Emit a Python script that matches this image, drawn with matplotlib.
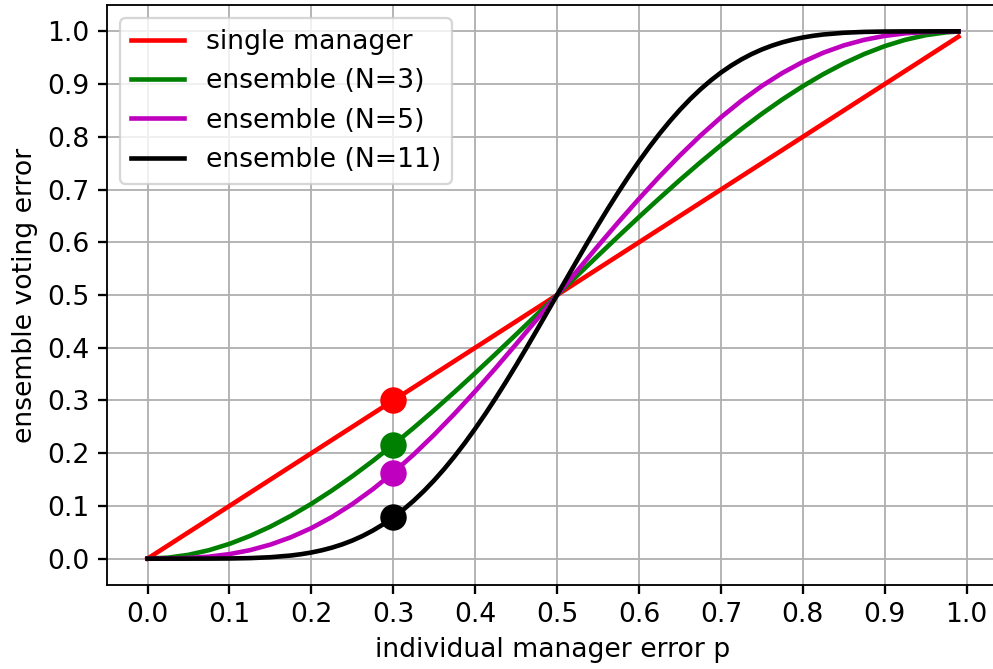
import matplotlib
matplotlib.use("Agg")
import matplotlib.pyplot as plt

p = [0.0, 0.025, 0.05, 0.075, 0.1, 0.125, 0.15, 0.175, 0.2, 0.225, 0.25,
     0.275, 0.3, 0.325, 0.35, 0.375, 0.4, 0.425, 0.45, 0.475, 0.5,
     0.525, 0.55, 0.575, 0.6, 0.625, 0.65, 0.675, 0.7, 0.725, 0.75,
     0.775, 0.8, 0.825, 0.85, 0.875, 0.9, 0.925, 0.95, 0.975, 0.99]
single = [0.0, 0.025, 0.05, 0.075, 0.1, 0.125, 0.15, 0.175, 0.2, 0.225, 0.25,
          0.275, 0.3, 0.325, 0.35, 0.375, 0.4, 0.425, 0.45, 0.475, 0.5,
          0.525, 0.55, 0.575, 0.6, 0.625, 0.65, 0.675, 0.7, 0.725, 0.75,
          0.775, 0.8, 0.825, 0.85, 0.875, 0.9, 0.925, 0.95, 0.975, 0.99]
ens3 = [0.0, 0.00184, 0.00725, 0.01603, 0.028, 0.04297, 0.06075, 0.08116, 0.104, 0.12909, 0.15625,
        0.18528, 0.216, 0.24822, 0.28175, 0.31641, 0.352, 0.38834, 0.42525, 0.46253, 0.5,
        0.53747, 0.57475, 0.61166, 0.648, 0.68359, 0.71825, 0.75178, 0.784, 0.81472, 0.84375,
        0.87091, 0.896, 0.91884, 0.93925, 0.95703, 0.972, 0.98397, 0.99275, 0.99816, 0.9997]
ens5 = [0.0, 0.00015, 0.00116, 0.00376, 0.00856, 0.01605, 0.02661, 0.04051, 0.05792, 0.07892, 0.10352,
        0.13162, 0.16308, 0.19769, 0.23517, 0.27521, 0.31744, 0.36147, 0.40687, 0.4532, 0.5,
        0.5468, 0.59313, 0.63853, 0.68256, 0.72479, 0.76483, 0.80231, 0.83692, 0.86838, 0.89648,
        0.92108, 0.94208, 0.95949, 0.97339, 0.98395, 0.99144, 0.99624, 0.99884, 0.99985, 0.99999]

p11 = [0.0, 0.025, 0.05, 0.075, 0.1, 0.125, 0.15, 0.175, 0.1875, 0.2, 0.2125, 0.225, 0.2375,
       0.25, 0.2625, 0.275, 0.2875, 0.3, 0.3125, 0.325, 0.3375, 0.35, 0.3625, 0.375, 0.3875,
       0.4, 0.4125, 0.425, 0.4375, 0.45, 0.4625, 0.475, 0.5,
       0.525, 0.5375, 0.55, 0.5625, 0.575, 0.5875, 0.6, 0.6125, 0.625, 0.6375, 0.65, 0.6625,
       0.675, 0.6875, 0.7, 0.7125, 0.725, 0.7375, 0.75, 0.7625, 0.775, 0.7875, 0.8, 0.8125,
       0.825, 0.85, 0.875, 0.9, 0.925, 0.95, 0.975, 0.99]
ens11 = [0.0, 0.0000001, 0.000006, 0.000059, 0.000296, 0.001003, 0.00266, 0.005928, 0.008426, 0.01165,
         0.015734, 0.02079, 0.026948, 0.03433, 0.043045, 0.05321, 0.064906, 0.07822, 0.093227,
         0.10996, 0.128442, 0.14868, 0.170664, 0.19434, 0.219648, 0.2465, 0.274792, 0.30439,
         0.335138, 0.36688, 0.399437, 0.43261, 0.5,
         0.56739, 0.600563, 0.63312, 0.664862, 0.69561, 0.725208, 0.7535, 0.780352, 0.80566,
         0.829336, 0.85132, 0.871558, 0.89004, 0.906773, 0.92178, 0.935094, 0.94679, 0.956955,
         0.96567, 0.973052, 0.97921, 0.984266, 0.98835, 0.991574,
         0.99407, 0.99734, 0.999, 0.9997, 0.99994, 0.999994, 1.0, 1.0]

marker_p = 0.3
marker_vals = [0.3, 0.216, 0.16308, 0.07822]

labels = ["single manager", "ensemble (N=3)", "ensemble (N=5)", "ensemble (N=11)"]
colors = ["r", "g", "m", "k"]

FS = 11.6
fig = plt.figure(figsize=(6.0, 4.0423), dpi=165.5)
ax = fig.add_axes([107/993, 1-585/669, (999-107)/993, (585-5)/669])
series = [(p, single), (p, ens3), (p, ens5), (p11, ens11)]
for (xs, ys), lab, c in zip(series, labels, colors):
    ax.plot(xs, ys, color=c, lw=2.0, label=lab)
for v, c in zip(marker_vals, colors):
    ax.plot([marker_p], [v], "o", color=c, ms=10.5)

ax.set_xticks([i/10 for i in range(11)])
ax.set_yticks([i/10 for i in range(11)])
ax.tick_params(labelsize=FS, width=1.0, length=4)
ax.grid(True)
ax.set_xlabel("individual manager error p", fontsize=FS)
ax.set_ylabel("ensemble voting error", fontsize=FS)
ax.legend(loc="upper left", fontsize=FS)
fig.savefig("out.png", dpi=165.5)
